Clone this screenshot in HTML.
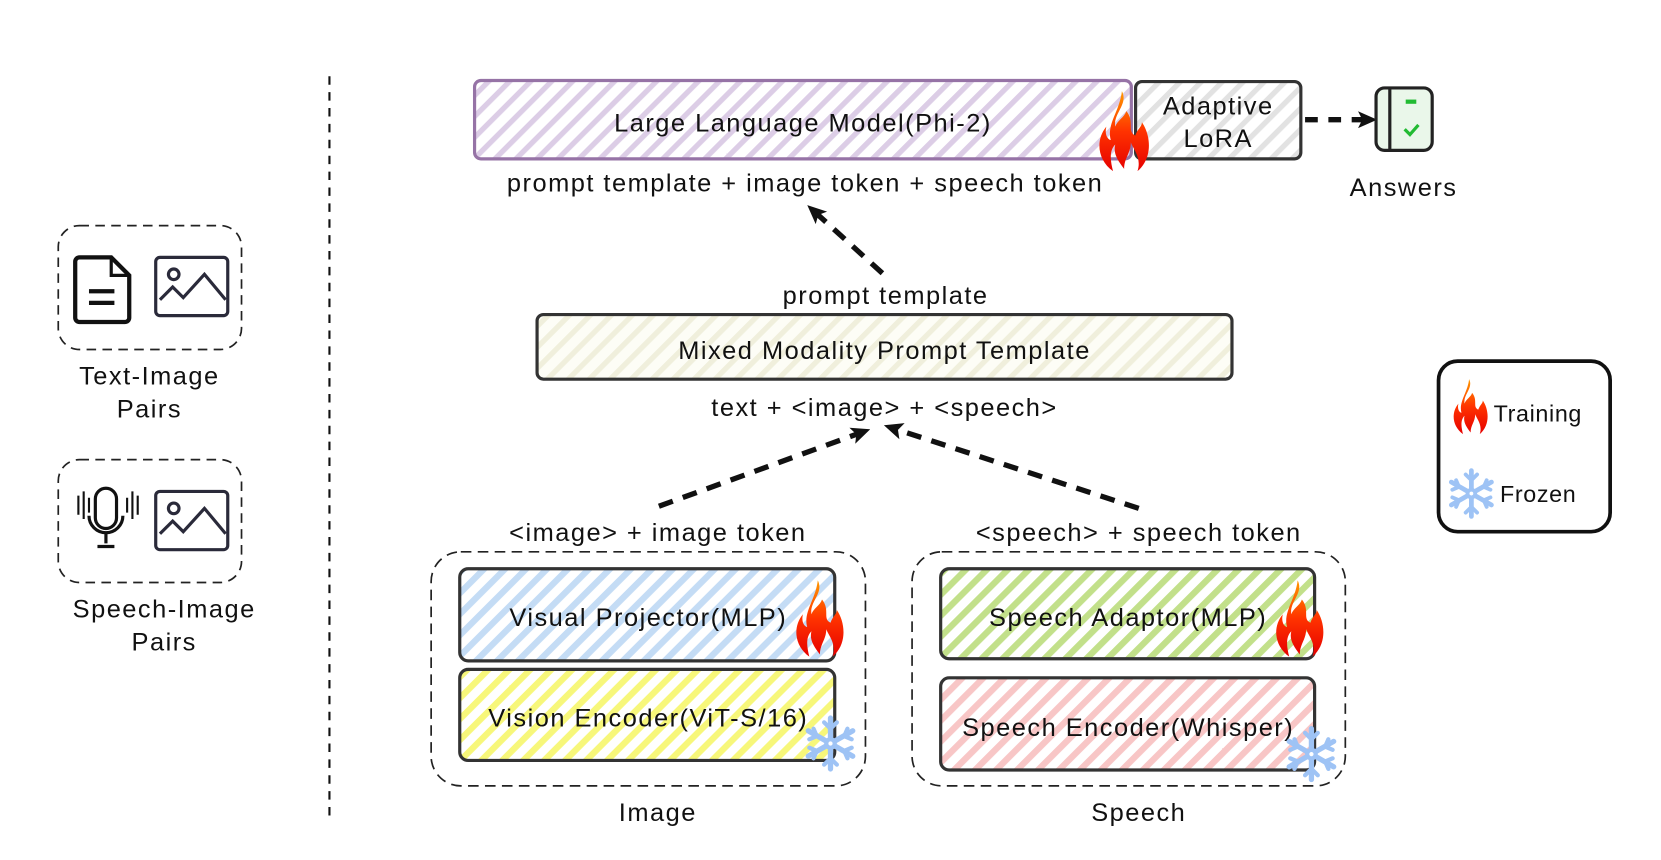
<!DOCTYPE html>
<html><head><meta charset="utf-8"><style>
html,body{margin:0;padding:0;background:#fff;width:1661px;height:860px;overflow:hidden}
svg{display:block}
text{font-family:"Liberation Sans",sans-serif;font-size:24px;letter-spacing:1.4px;fill:#111;text-anchor:middle}
</style></head><body>
<svg width="1661" height="860" viewBox="0 0 1568 812" preserveAspectRatio="none" xmlns="http://www.w3.org/2000/svg">
<defs>
<pattern id="hp" width="14" height="14" patternUnits="userSpaceOnUse" patternTransform="rotate(45)"><rect width="14" height="14" fill="#fff"/><rect width="5" height="14" fill="#dccde6"/></pattern>
<pattern id="hg" width="14" height="14" patternUnits="userSpaceOnUse" patternTransform="rotate(45)"><rect width="14" height="14" fill="#fff"/><rect width="5" height="14" fill="#e2e2e2"/></pattern>
<pattern id="hc" width="14" height="14" patternUnits="userSpaceOnUse" patternTransform="rotate(45)"><rect width="14" height="14" fill="#fdfdf6"/><rect width="5" height="14" fill="#f0efdc"/></pattern>
<pattern id="hb" width="14" height="14" patternUnits="userSpaceOnUse" patternTransform="rotate(45)"><rect width="14" height="14" fill="#fff"/><rect width="6" height="14" fill="#c4dcf5"/></pattern>
<pattern id="hy" width="14" height="14" patternUnits="userSpaceOnUse" patternTransform="rotate(45)"><rect width="14" height="14" fill="#fff"/><rect width="6" height="14" fill="#f7f77a"/></pattern>
<pattern id="hgr" width="14" height="14" patternUnits="userSpaceOnUse" patternTransform="rotate(45)"><rect width="14" height="14" fill="#fff"/><rect width="6" height="14" fill="#c2e08a"/></pattern>
<pattern id="hr" width="14" height="14" patternUnits="userSpaceOnUse" patternTransform="rotate(45)"><rect width="14" height="14" fill="#fff"/><rect width="6" height="14" fill="#f8c6c6"/></pattern>
<linearGradient id="fl" x1="0" y1="0" x2="0" y2="1"><stop offset="0" stop-color="#ff9900"/><stop offset="0.5" stop-color="#ff3300"/><stop offset="1" stop-color="#e60000"/></linearGradient>
<g id="flame"><path d="M22 0 C28 12 14 20 16 32 C18 26 24 24 26 18 C34 28 26 36 34 40 C36 34 40 32 40 28 C48 40 50 60 36 72 C40 60 32 52 30 46 C30 56 24 60 24 70 C18 62 14 56 16 48 C10 54 12 64 14 72 C0 62 -2 44 8 32 C6 40 10 44 12 44 C8 30 20 18 22 0Z" fill="url(#fl)"/></g>
<g id="snow" stroke="#9ec3f5" stroke-width="5" stroke-linecap="round" fill="none"><path d="M0 -24V24M-21 -12L21 12M-21 12L21 -12"/><path d="M-6 -20L0 -14L6 -20M-6 20L0 14L6 20M-20 -4L-13 -7L-16 -14M20 4L13 7L16 14M-20 4L-13 7L-16 14M20 -4L13 -7L16 -14" stroke-width="4"/><circle r="4" fill="#fff" stroke-width="4"/></g>
<marker id="ah" markerWidth="18" markerHeight="18" refX="10" refY="9" orient="auto" markerUnits="userSpaceOnUse" viewBox="0 0 18 18"><path d="M0 1L18 9L0 17L4 9Z" fill="#111"/></marker>
</defs>

<line x1="311" y1="72" x2="311" y2="770" stroke="#111" stroke-width="2" stroke-dasharray="8 7"/>

<rect x="55" y="213" width="173" height="117" rx="20" fill="none" stroke="#222" stroke-width="1.6" stroke-dasharray="9 6"/>
<path d="M75 243h30l17 17v40a4 4 0 0 1-4 4h-43a4 4 0 0 1-4-4v-53a4 4 0 0 1 4-4z" fill="none" stroke="#111" stroke-width="4"/>
<path d="M105 243v17h17" fill="none" stroke="#111" stroke-width="3"/>
<path d="M84 275h24M84 286h24" stroke="#111" stroke-width="4"/>
<rect x="147" y="243" width="68" height="55" rx="4" fill="none" stroke="#2a2a3a" stroke-width="3"/>
<circle cx="164" cy="259" r="5" fill="none" stroke="#2a2a3a" stroke-width="3"/>
<path d="M151 283l12-12 10 10 20-22 20 24" fill="none" stroke="#2a2a3a" stroke-width="3"/>
<text x="141" y="363">Text-Image</text><text x="141" y="394">Pairs</text>

<rect x="55" y="434" width="173" height="116" rx="20" fill="none" stroke="#222" stroke-width="1.6" stroke-dasharray="9 6"/>
<rect x="90" y="461" width="20" height="38" rx="10" fill="none" stroke="#111" stroke-width="3"/>
<path d="M84 487a16 16 0 0 0 32 0M100 503v10M92 516h16" fill="none" stroke="#111" stroke-width="3"/>
<path d="M74 468v18M79 464v26M84 470v14M120 470v14M125 464v26M130 468v18" stroke="#111" stroke-width="2"/>
<rect x="147" y="464" width="68" height="55" rx="4" fill="none" stroke="#2a2a3a" stroke-width="3"/>
<circle cx="164" cy="480" r="5" fill="none" stroke="#2a2a3a" stroke-width="3"/>
<path d="M151 504l12-12 10 10 20-22 20 24" fill="none" stroke="#2a2a3a" stroke-width="3"/>
<text x="155" y="583">Speech-Image</text><text x="155" y="614">Pairs</text>

<rect x="448" y="76" width="620" height="74" rx="6" fill="url(#hp)" stroke="#9673a6" stroke-width="3"/>
<text x="758" y="124">Large Language Model(Phi-2)</text>
<rect x="1072" y="77" width="156" height="73" rx="6" fill="url(#hg)" stroke="#333" stroke-width="3"/>
<text x="1150" y="108">Adaptive</text><text x="1150" y="139">LoRA</text>
<use href="#flame" transform="translate(1036,86) scale(1.05)"/>
<line x1="1232" y1="113" x2="1292" y2="113" stroke="#111" stroke-width="5" stroke-dasharray="12 10" marker-end="url(#ah)"/>
<rect x="1299" y="83" width="53" height="59" rx="8" fill="#eaf7ea" stroke="#222" stroke-width="3"/>
<line x1="1312" y1="84" x2="1312" y2="141" stroke="#222" stroke-width="3"/>
<path d="M1327 96h10" stroke="#22bb33" stroke-width="4"/>
<path d="M1326 122l5 5 8-9" fill="none" stroke="#22bb33" stroke-width="3"/>
<text x="1325" y="185">Answers</text>
<text x="760" y="181">prompt template + image token + speech token</text>

<line x1="833" y1="258" x2="768" y2="199" stroke="#111" stroke-width="5" stroke-dasharray="14 10" marker-end="url(#ah)"/>
<text x="836" y="287">prompt template</text>

<rect x="507" y="297" width="656" height="61" rx="6" fill="url(#hc)" stroke="#333" stroke-width="3"/>
<text x="835" y="339">Mixed Modality Prompt Template</text>
<text x="835" y="393">text + &lt;image&gt; + &lt;speech&gt;</text>

<line x1="622" y1="478" x2="814" y2="408" stroke="#111" stroke-width="5" stroke-dasharray="14 10" marker-end="url(#ah)"/>
<line x1="1075" y1="480" x2="842" y2="404" stroke="#111" stroke-width="5" stroke-dasharray="14 10" marker-end="url(#ah)"/>
<text x="621" y="511">&lt;image&gt; + image token</text>
<text x="1075" y="511">&lt;speech&gt; + speech token</text>

<rect x="407" y="521" width="410" height="221" rx="28" fill="none" stroke="#222" stroke-width="1.6" stroke-dasharray="10 6"/>
<rect x="434" y="537" width="354" height="87" rx="8" fill="url(#hb)" stroke="#333" stroke-width="3"/>
<text x="612" y="591">Visual Projector(MLP)</text>
<rect x="434" y="632" width="354" height="86" rx="8" fill="url(#hy)" stroke="#333" stroke-width="3"/>
<text x="612" y="686">Vision Encoder(ViT-S/16)</text>
<use href="#flame" transform="translate(750,548)"/>
<use href="#snow" transform="translate(784,702)"/>
<text x="621" y="775">Image</text>

<rect x="861" y="521" width="409" height="221" rx="28" fill="none" stroke="#222" stroke-width="1.6" stroke-dasharray="10 6"/>
<rect x="888" y="537" width="353" height="85" rx="8" fill="url(#hgr)" stroke="#333" stroke-width="3"/>
<text x="1065" y="591">Speech Adaptor(MLP)</text>
<rect x="888" y="640" width="353" height="87" rx="8" fill="url(#hr)" stroke="#333" stroke-width="3"/>
<text x="1065" y="695">Speech Encoder(Whisper)</text>
<use href="#flame" transform="translate(1203,548)"/>
<use href="#snow" transform="translate(1238,712)"/>
<text x="1075" y="775">Speech</text>

<rect x="1358" y="341" width="162" height="161" rx="18" fill="#fff" stroke="#111" stroke-width="3.5"/>
<use href="#flame" transform="translate(1371,358) scale(0.72)"/>
<text x="1410" y="398" style="text-anchor:start;font-size:22px;letter-spacing:0.6px">Training</text>
<use href="#snow" transform="translate(1389,466) scale(0.9)"/>
<text x="1416" y="474" style="text-anchor:start;font-size:22px;letter-spacing:0.6px">Frozen</text>
</svg>
</body></html>
